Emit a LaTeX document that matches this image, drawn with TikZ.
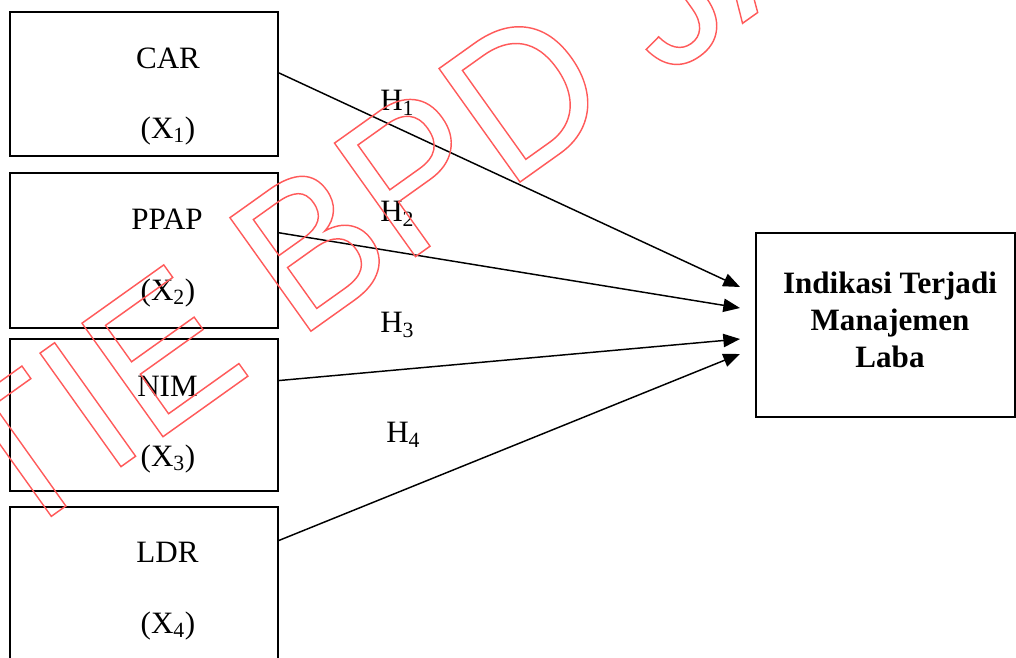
\documentclass[tikz,border=0pt]{standalone}
\usepackage{fontspec}
\setmainfont{Liberation Serif}
\newfontfamily\wmfont{Liberation Sans}
\usetikzlibrary{arrows.meta,calc}
\definecolor{wmred}{RGB}{255,90,90}
\tikzset{
  box/.style={draw, line width=1.4pt, inner sep=0pt},
  lbl/.style={anchor=base, inner sep=0pt, font=\fontsize{23.3}{28}\selectfont},
  conn/.style={line width=1.1pt, -{Triangle[length=12.5pt,width=10pt]}},
  wm/.style={text=wmred, inner sep=0pt, anchor=base west},
}
\begin{document}
\begin{tikzpicture}[x=0.75pt,y=-0.75pt]
\useasboundingbox (0,0) rectangle (1016,657);
\clip (0,0) rectangle (1016,657);
% boxes
\node[box, minimum width=201pt, minimum height=108pt] (b1) at (144,84) {};
\node[box, minimum width=201pt, minimum height=116.25pt] (b2) at (144,250.5) {};
\node[box, minimum width=201pt, minimum height=114pt] (b3) at (144,415) {};
\node[box, minimum width=201pt, minimum height=118.5pt] (b4) at (144,586) {};
\node[box, minimum width=194.25pt, minimum height=138pt] (y) at (885.5,325) {};
% box texts
\node[lbl] (t1) at (168,68) {CAR};
\node[lbl] (x1) at (168,138) {(X\textsubscript{1})};
\node[lbl] (t2) at (167,229) {PPAP};
\node[lbl] (x2) at (168,300) {(X\textsubscript{2})};
\node[lbl] (t3) at (167.5,396) {NIM};
\node[lbl] (x3) at (168,466) {(X\textsubscript{3})};
\node[lbl] (t4) at (167.5,562) {LDR};
\node[lbl] (x4) at (168,633) {(X\textsubscript{4})};
\node[inner sep=0pt, align=center, font=\fontsize{23.3}{27.75}\selectfont\bfseries] (yt) at (890,320) {Indikasi Terjadi\\Manajemen\\Laba};
% arrow ends
\coordinate (e1) at (740,287);
\coordinate (e2) at (740,308);
\coordinate (e3) at (740,339);
\coordinate (e4) at (740,354);
\draw[conn] ($(b1.north east)!0.424!(b1.south east)$) -- (e1);
\draw[conn] ($(b2.north east)!0.387!(b2.south east)$) -- (e2);
\draw[conn] ($(b3.north east)!0.276!(b3.south east)$) -- (e3);
\draw[conn] ($(b4.north east)!0.215!(b4.south east)$) -- (e4);
% hypothesis labels
\node[lbl, anchor=base west] (h1) at (380,110.7) {H\textsubscript{1}};
\node[lbl, anchor=base west] (h2) at (380,221.7) {H\textsubscript{2}};
\node[lbl, anchor=base west] (h3) at (380,332.7) {H\textsubscript{3}};
\node[lbl, anchor=base west] (h4) at (386,442.7) {H\textsubscript{4}};
% watermark
\node[wm, rotate=35.5, xscale=0.95] (wmk) at (-94,620) {\wmfont\fontsize{152}{152}\selectfont\special{pdf:literal direct 1 Tr 1.1 w}STIE BPD JATENG\special{pdf:literal direct 0 Tr}};
\end{tikzpicture}
\end{document}
